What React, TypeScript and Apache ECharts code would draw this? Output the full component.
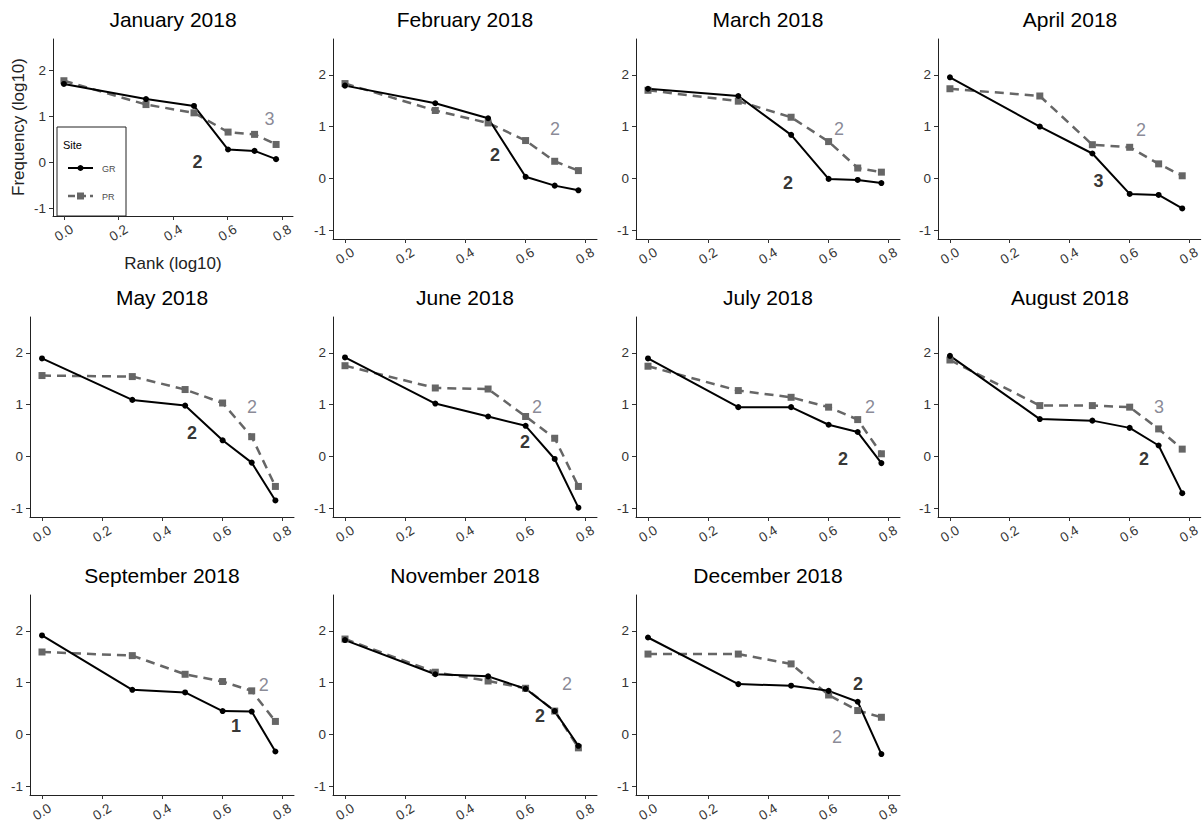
import React, { useEffect, useRef } from 'react';
import * as echarts from 'echarts';

// rank (log10) of ranks 1..6
const rankLog = [0, 0.301, 0.477, 0.602, 0.699, 0.778];

const months = [
  'January 2018', 'February 2018', 'March 2018', 'April 2018',
  'May 2018', 'June 2018', 'July 2018', 'August 2018',
  'September 2018', 'November 2018', 'December 2018',
];

// frequency (log10), site GR
const grFreq = [
  [1.71, 1.38, 1.23, 0.28, 0.25, 0.07],
  [1.79, 1.45, 1.16, 0.03, -0.14, -0.23],
  [1.73, 1.59, 0.84, -0.01, -0.03, -0.09],
  [1.95, 1.0, 0.48, -0.3, -0.32, -0.58],
  [1.89, 1.09, 0.98, 0.31, -0.12, -0.85],
  [1.91, 1.02, 0.77, 0.59, -0.05, -0.99],
  [1.89, 0.95, 0.95, 0.61, 0.47, -0.13],
  [1.94, 0.72, 0.69, 0.55, 0.21, -0.71],
  [1.91, 0.86, 0.81, 0.45, 0.44, -0.33],
  [1.82, 1.16, 1.12, 0.88, 0.45, -0.22],
  [1.87, 0.97, 0.94, 0.84, 0.63, -0.38],
];

// frequency (log10), site PR
const prFreq = [
  [1.78, 1.26, 1.08, 0.66, 0.61, 0.39],
  [1.83, 1.31, 1.07, 0.73, 0.33, 0.15],
  [1.7, 1.49, 1.18, 0.71, 0.2, 0.12],
  [1.73, 1.59, 0.65, 0.6, 0.28, 0.05],
  [1.56, 1.54, 1.29, 1.03, 0.38, -0.58],
  [1.75, 1.32, 1.3, 0.77, 0.35, -0.58],
  [1.74, 1.27, 1.14, 0.95, 0.71, 0.05],
  [1.86, 0.98, 0.98, 0.95, 0.53, 0.14],
  [1.59, 1.52, 1.16, 1.02, 0.84, 0.25],
  [1.84, 1.2, 1.03, 0.89, 0.45, -0.26],
  [1.55, 1.55, 1.36, 0.76, 0.46, 0.33],
];

// annotation numbers [x, y, text]
const grNote: [number, number, string][] = [
  [0.49, 0.0, '2'], [0.5, 0.46, '2'], [0.467, -0.08, '2'], [0.498, -0.06, '3'],
  [0.5, 0.46, '2'], [0.6, 0.28, '2'], [0.65, -0.05, '2'], [0.65, -0.05, '2'],
  [0.647, 0.16, '1'], [0.65, 0.36, '2'], [0.7, 0.97, '2'],
];
const prNote: [number, number, string][] = [
  [0.754, 0.95, '3'], [0.7, 0.95, '2'], [0.637, 0.95, '2'], [0.64, 0.94, '2'],
  [0.7, 0.95, '2'], [0.64, 0.95, '2'], [0.74, 0.95, '2'], [0.7, 0.96, '3'],
  [0.739, 0.95, '2'], [0.74, 0.97, '2'], [0.63, -0.05, '2'],
];

const xTicks = [0, 0.2, 0.4, 0.6, 0.8];
const yTicks = [-1, 0, 1, 2];

const FONT = '"Liberation Sans", Arial, sans-serif';
const colLeft = [30, 333, 636, 938];
const rowTop = [39, 317, 595];
const PW = 264;
const PH = 200;

const App: React.FC = () => {
  const chartRef = useRef<HTMLDivElement>(null);

  useEffect(() => {
    if (!chartRef.current) return;
    const chart = echarts.init(chartRef.current, undefined, { renderer: 'svg' });

    const grids: any[] = [];
    const xAxes: any[] = [];
    const yAxes: any[] = [];
    const series: any[] = [];
    const graphics: any[] = [];

    months.forEach((m, i) => {
      const row = Math.floor(i / 4);
      const col = i % 4;
      let left = colLeft[col];
      let width = PW;
      let height = PH;
      if (i === 0) {
        // first panel is shrunk by the axis titles
        left = 53;
        width = 240;
        height = 177;
      }
      const top = rowTop[row];
      grids.push({ left, top, width, height, containLabel: false });

      xAxes.push({
        gridIndex: i,
        type: 'value',
        min: -0.04,
        max: 0.84,
        axisLine: { show: true, onZero: false, lineStyle: { color: '#222', width: 1 } },
        axisTick: { show: true, customValues: xTicks, length: 4, lineStyle: { color: '#333' } },
        axisLabel: {
          customValues: xTicks,
          rotate: 32,
          align: 'center',
          verticalAlign: 'middle',
          margin: 17,
          fontSize: 13.5,
          color: '#333',
          fontFamily: FONT,
          formatter: (v: number) => v.toFixed(1),
        },
        splitLine: { show: false },
      });
      yAxes.push({
        gridIndex: i,
        type: 'value',
        min: -1.17,
        max: 2.69,
        axisLine: { show: true, onZero: false, lineStyle: { color: '#222', width: 1 } },
        axisTick: { show: true, customValues: yTicks, length: 4, lineStyle: { color: '#333' } },
        axisLabel: {
          customValues: yTicks,
          margin: 7,
          fontSize: 13.5,
          color: '#333',
          fontFamily: FONT,
          formatter: (v: number) => String(v),
        },
        splitLine: { show: false },
      });

      series.push({
        type: 'line',
        xAxisIndex: i,
        yAxisIndex: i,
        data: rankLog.map((x, j) => [x, prFreq[i][j]]),
        symbol: 'rect',
        symbolSize: 7,
        lineStyle: { color: '#666', width: 2.5, type: [9, 6] },
        itemStyle: { color: '#666' },
        silent: true,
      });
      series.push({
        type: 'line',
        xAxisIndex: i,
        yAxisIndex: i,
        data: rankLog.map((x, j) => [x, grFreq[i][j]]),
        symbol: 'circle',
        symbolSize: 6,
        lineStyle: { color: '#000', width: 2 },
        itemStyle: { color: '#000' },
        silent: true,
      });

      const notes: [[number, number, string], string, string][] = [
        [grNote[i], '#000', 'bold'],
        [prNote[i], '#6b6b7b', 'normal'],
      ];
      notes.forEach(([n, color, weight]) => {
        series.push({
          type: 'scatter',
          xAxisIndex: i,
          yAxisIndex: i,
          data: [[n[0], n[1]]],
          symbolSize: 1,
          itemStyle: { color: 'rgba(0,0,0,0)' },
          silent: true,
          z: 5,
          label: {
            show: true,
            position: 'inside',
            formatter: n[2],
            fontSize: 18,
            fontWeight: weight,
            color,
            fontFamily: FONT,
          },
        });
      });

      graphics.push({
        type: 'text',
        x: left + width / 2,
        y: top - 20,
        style: {
          text: m,
          fontSize: 21,
          fontFamily: FONT,
          fill: '#000',
          align: 'center',
          verticalAlign: 'middle',
        },
      });
    });

    // axis titles (first panel only)
    graphics.push({
      type: 'text',
      x: 18,
      y: 127,
      rotation: Math.PI / 2,
      style: { text: 'Frequency (log10)', fontSize: 17, fontFamily: FONT, fill: '#222', align: 'center', verticalAlign: 'middle' },
    });
    graphics.push({
      type: 'text',
      x: 173,
      y: 263,
      style: { text: 'Rank (log10)', fontSize: 17, fontFamily: FONT, fill: '#222', align: 'center', verticalAlign: 'middle' },
    });

    // legend box in first panel
    graphics.push({
      type: 'group',
      z: 100,
      children: [
        { type: 'rect', shape: { x: 57, y: 127, width: 69, height: 89 }, style: { fill: '#fff', stroke: '#222', lineWidth: 1 } },
        { type: 'text', x: 63, y: 145, style: { text: 'Site', fontSize: 11, fontFamily: FONT, fill: '#000', verticalAlign: 'middle' } },
        { type: 'line', shape: { x1: 68, y1: 168, x2: 93, y2: 168 }, style: { stroke: '#000', lineWidth: 2 } },
        { type: 'circle', shape: { cx: 80.5, cy: 168, r: 3 }, style: { fill: '#000' } },
        { type: 'text', x: 102, y: 169, style: { text: 'GR', fontSize: 9, fontFamily: FONT, fill: '#4d4d4d', verticalAlign: 'middle' } },
        { type: 'line', shape: { x1: 68, y1: 196, x2: 93, y2: 196 }, style: { stroke: '#666', lineWidth: 2.5, lineDash: [7, 4] } },
        { type: 'rect', shape: { x: 77, y: 192.5, width: 7, height: 7 }, style: { fill: '#666' } },
        { type: 'text', x: 102, y: 197, style: { text: 'PR', fontSize: 9, fontFamily: FONT, fill: '#4d4d4d', verticalAlign: 'middle' } },
      ],
    });

    chart.setOption({
      animation: false,
      backgroundColor: '#fff',
      grid: grids,
      xAxis: xAxes,
      yAxis: yAxes,
      series,
      graphic: graphics,
    });

    return () => {
      chart.dispose();
    };
  }, []);

  return (
    <div
      ref={chartRef}
      style={{ position: 'absolute', left: 0, top: 0, width: 1203, height: 827 }}
    />
  );
};

export default App;
